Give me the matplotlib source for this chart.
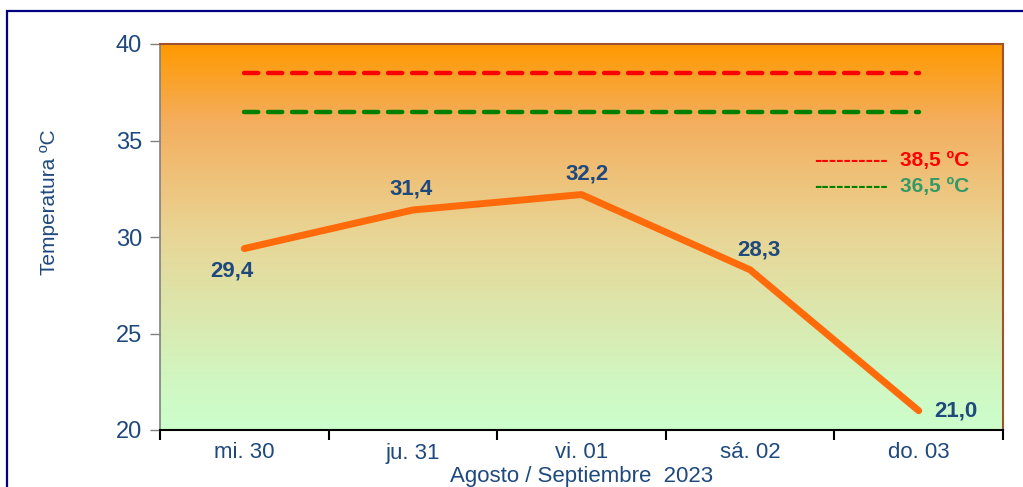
import numpy as np
import matplotlib.pyplot as plt
from matplotlib.colors import LinearSegmentedColormap
from matplotlib.patches import Rectangle

plt.rcParams['font.family'] = ['Liberation Sans', 'DejaVu Sans']

# data
days = ['mi. 30', 'ju. 31', 'vi. 01', 'sá. 02', 'do. 03']
temps = [29.4, 31.4, 32.2, 28.3, 21.0]
limit_red = 38.5
limit_green = 36.5
label_offsets = [(-9, -16), (-1, 15), (4, 15), (6, 14), (27, 0)]

txt_blue = '#1F497D'
line_orange = '#FF6A0A'

fig = plt.figure(figsize=(10.23, 4.87), dpi=100)
ax = fig.add_axes([160 / 1023, 1 - 430 / 487, 843 / 1023, 386 / 487])

# background gradient orange -> light green
cmap = LinearSegmentedColormap.from_list('bg', [(0, '#CCFFCC'), (0.12, '#D0F7C2'),
                                                (0.5, '#E8D696'), (0.8, '#F4AE5E'),
                                                (1, '#FF9900')])
grad = np.linspace(0, 1, 256).reshape(-1, 1)
ax.imshow(grad, cmap=cmap, origin='lower', aspect='auto',
          extent=[0, 5, 20, 40], zorder=0)

x = np.arange(len(days)) + 0.5
ax.plot([x[0], x[-1]], [limit_red] * 2, color='#FF0000', lw=3.2,
        dashes=(3.2, 2.2), dash_capstyle='round', zorder=2)
ax.plot([x[0], x[-1]], [limit_green] * 2, color='#008000', lw=3.2,
        dashes=(3.2, 2.2), dash_capstyle='round', zorder=2)
ax.plot(x, temps, color=line_orange, lw=5, solid_capstyle='round', zorder=3)

for xi, t, off in zip(x, temps, label_offsets):
    ax.annotate(f'{t:.1f}'.replace('.', ','), (xi, t), xytext=off,
                textcoords='offset points', ha='center', va='center',
                fontsize=16, fontweight='bold', color=txt_blue, zorder=4)

# legend-like text
ax.text(0.776, 0.697, '----------', transform=ax.transAxes, color='#FF0000',
        fontsize=16, fontweight='bold', va='center')
ax.text(0.878, 0.697, '38,5 ºC', transform=ax.transAxes, color='#FF0000',
        fontsize=15, fontweight='bold', va='center')
ax.text(0.776, 0.632, '----------', transform=ax.transAxes, color='#008000',
        fontsize=16, fontweight='bold', va='center')
ax.text(0.878, 0.632, '36,5 ºC', transform=ax.transAxes, color='#339966',
        fontsize=15, fontweight='bold', va='center')

ax.set_xlim(0, 5)
ax.set_ylim(20, 40)
ax.set_yticks([20, 25, 30, 35, 40])
ax.set_xticks(np.arange(0, 6))
ax.set_xticklabels([])
ax.set_xticks(x, minor=True)
ax.set_xticklabels(days, minor=True)
ax.tick_params(axis='x', which='minor', length=0, pad=9, labelsize=16, labelcolor=txt_blue)
ax.tick_params(axis='x', which='major', length=7, width=1.5, color='black', direction='out')
ax.tick_params(axis='y', length=7, width=1, color='#808080', labelsize=17,
               labelcolor=txt_blue, pad=6)

ax.spines['left'].set_color('#808080')
ax.spines['left'].set_linewidth(1.2)
ax.spines['bottom'].set_color('black')
ax.spines['bottom'].set_linewidth(1.5)
ax.spines['top'].set_color('#A0522D')
ax.spines['right'].set_color('#A0522D')
ax.spines['top'].set_linewidth(1.5)
ax.spines['right'].set_linewidth(1.5)

ax.set_ylabel('Temperatura ºC', fontsize=15, color=txt_blue)
ax.yaxis.set_label_coords(-0.12, 0.59)
ax.set_xlabel('Agosto / Septiembre  2023', fontsize=16, color=txt_blue, labelpad=2)

# outer navy frame, running off the right and bottom edges
fig.patches.append(Rectangle((7 / 1023, -0.05), 1.1, 1 - 10.5 / 487 + 0.05,
                             transform=fig.transFigure, fill=False,
                             edgecolor='#000080', lw=1.6))

fig.savefig('out.png', dpi=100)
